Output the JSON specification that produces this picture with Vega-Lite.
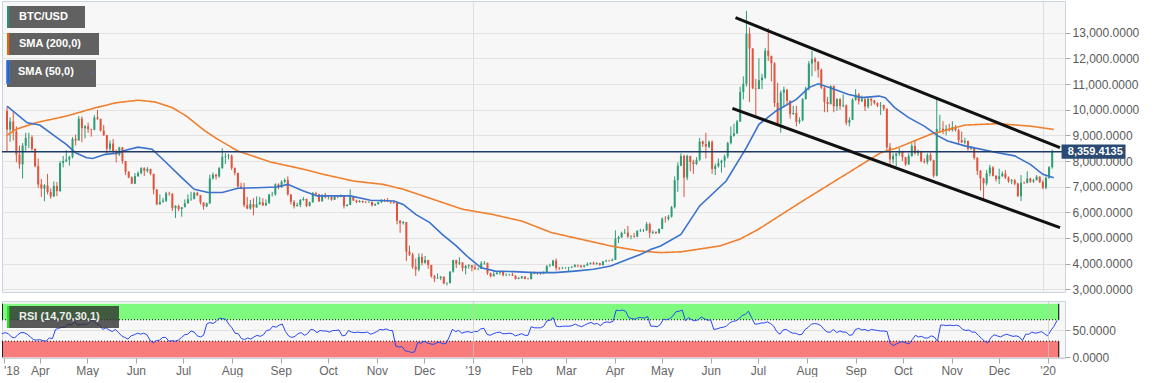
{
"$schema": "https://vega.github.io/schema/vega-lite/v6.json",
"padding": 0,
"background": "#ffffff",
"spacing": 9,
"bounds": "flush",
"config": {
 "font": "Liberation Sans",
 "view": {"fill": "#f7f7f7", "stroke": "#cbd3e3"},
 "axis": {"title": null, "domain": false, "labelFontSize": 12, "labelColor": "#5a5a5a", "tickColor": "#a6a6a6", "tickSize": 5, "labelOverlap": false},
 "legend": {"padding": 0, "fillColor": "#616161", "symbolSize": 484, "symbolStrokeWidth": 0, "labelColor": "#ffffff", "labelFontSize": 11, "labelFontWeight": "bold", "labelOffset": -10, "labelLimit": 300}
},
"datasets": {
 "px": [
{"d":"2018-03-08","o":9950,"h":10100,"l":8350,"c":9230,"r":44},
{"d":"2018-03-10","o":9230,"h":9700,"l":8750,"c":9540,"r":46},
{"d":"2018-03-12","o":9540,"h":9900,"l":8800,"c":9150,"r":44},
{"d":"2018-03-14","o":9150,"h":9350,"l":7950,"c":8250,"r":38},
{"d":"2018-03-16","o":8250,"h":8600,"l":7700,"c":7870,"r":36},
{"d":"2018-03-18","o":7870,"h":8700,"l":7320,"c":8600,"r":42},
{"d":"2018-03-20","o":8600,"h":9100,"l":8350,"c":8900,"r":46},
{"d":"2018-03-22","o":8900,"h":9100,"l":8500,"c":8920,"r":46},
{"d":"2018-03-24","o":8920,"h":9000,"l":8400,"c":8470,"r":43},
{"d":"2018-03-26","o":8470,"h":8500,"l":7750,"c":7800,"r":38},
{"d":"2018-03-28","o":7800,"h":8100,"l":6950,"c":7090,"r":33},
{"d":"2018-03-30","o":7090,"h":7300,"l":6600,"c":6930,"r":32},
{"d":"2018-04-01","o":6930,"h":7100,"l":6430,"c":7050,"r":33},
{"d":"2018-04-03","o":7050,"h":7500,"l":6700,"c":6790,"r":31},
{"d":"2018-04-05","o":6790,"h":6930,"l":6530,"c":6620,"r":30},
{"d":"2018-04-07","o":6620,"h":7200,"l":6600,"c":7030,"r":36},
{"d":"2018-04-09","o":7030,"h":7180,"l":6630,"c":6830,"r":35},
{"d":"2018-04-11","o":6830,"h":8000,"l":6800,"c":7920,"r":52},
{"d":"2018-04-13","o":7920,"h":8200,"l":7750,"c":8000,"r":54},
{"d":"2018-04-15","o":8000,"h":8420,"l":7950,"c":8060,"r":56},
{"d":"2018-04-17","o":8060,"h":8200,"l":7820,"c":8160,"r":56},
{"d":"2018-04-19","o":8160,"h":8930,"l":8100,"c":8860,"r":62},
{"d":"2018-04-21","o":8860,"h":9030,"l":8600,"c":8800,"r":60},
{"d":"2018-04-23","o":8800,"h":9750,"l":8800,"c":9650,"r":67},
{"d":"2018-04-25","o":9650,"h":9740,"l":8730,"c":9280,"r":60},
{"d":"2018-04-27","o":9280,"h":9400,"l":8880,"c":9350,"r":61},
{"d":"2018-04-29","o":9350,"h":9500,"l":9100,"c":9240,"r":62},
{"d":"2018-05-01","o":9240,"h":9260,"l":8950,"c":9220,"r":61},
{"d":"2018-05-03","o":9220,"h":9790,"l":9200,"c":9700,"r":67},
{"d":"2018-05-05","o":9700,"h":9990,"l":9600,"c":9640,"r":69},
{"d":"2018-05-07","o":9640,"h":9650,"l":9150,"c":9190,"r":63},
{"d":"2018-05-09","o":9190,"h":9400,"l":8970,"c":9010,"r":60},
{"d":"2018-05-11","o":9010,"h":9010,"l":8300,"c":8480,"r":52},
{"d":"2018-05-13","o":8480,"h":8800,"l":8380,"c":8680,"r":55},
{"d":"2018-05-15","o":8680,"h":8860,"l":8300,"c":8350,"r":51},
{"d":"2018-05-17","o":8350,"h":8450,"l":7950,"c":8250,"r":48},
{"d":"2018-05-19","o":8250,"h":8550,"l":8200,"c":8530,"r":52},
{"d":"2018-05-21","o":8530,"h":8550,"l":7900,"c":8000,"r":46},
{"d":"2018-05-23","o":8000,"h":8000,"l":7450,"c":7580,"r":40},
{"d":"2018-05-25","o":7580,"h":7600,"l":7330,"c":7360,"r":37},
{"d":"2018-05-27","o":7360,"h":7400,"l":7100,"c":7120,"r":34},
{"d":"2018-05-29","o":7120,"h":7530,"l":7100,"c":7410,"r":40},
{"d":"2018-05-31","o":7410,"h":7600,"l":7380,"c":7530,"r":42},
{"d":"2018-06-02","o":7530,"h":7760,"l":7480,"c":7720,"r":45},
{"d":"2018-06-04","o":7720,"h":7760,"l":7420,"c":7620,"r":43},
{"d":"2018-06-06","o":7620,"h":7760,"l":7550,"c":7690,"r":45},
{"d":"2018-06-08","o":7690,"h":7700,"l":7450,"c":7500,"r":42},
{"d":"2018-06-10","o":7500,"h":7500,"l":6700,"c":6890,"r":32},
{"d":"2018-06-12","o":6890,"h":6900,"l":6280,"c":6310,"r":27},
{"d":"2018-06-14","o":6310,"h":6700,"l":6300,"c":6400,"r":31},
{"d":"2018-06-16","o":6400,"h":6560,"l":6380,"c":6450,"r":32},
{"d":"2018-06-18","o":6450,"h":6800,"l":6400,"c":6740,"r":37},
{"d":"2018-06-20","o":6740,"h":6800,"l":6650,"c":6720,"r":37},
{"d":"2018-06-22","o":6720,"h":6750,"l":6050,"c":6160,"r":30},
{"d":"2018-06-24","o":6160,"h":6280,"l":5780,"c":6250,"r":31},
{"d":"2018-06-26","o":6250,"h":6300,"l":6050,"c":6130,"r":30},
{"d":"2018-06-28","o":6130,"h":6200,"l":5830,"c":6200,"r":32},
{"d":"2018-06-30","o":6200,"h":6500,"l":6200,"c":6350,"r":37},
{"d":"2018-07-02","o":6350,"h":6700,"l":6350,"c":6510,"r":42},
{"d":"2018-07-04","o":6510,"h":6800,"l":6450,"c":6530,"r":43},
{"d":"2018-07-06","o":6530,"h":6800,"l":6500,"c":6760,"r":49},
{"d":"2018-07-08","o":6760,"h":6800,"l":6640,"c":6660,"r":47},
{"d":"2018-07-10","o":6660,"h":6680,"l":6300,"c":6390,"r":40},
{"d":"2018-07-12","o":6390,"h":6390,"l":6100,"c":6230,"r":38},
{"d":"2018-07-14","o":6230,"h":6380,"l":6200,"c":6350,"r":41},
{"d":"2018-07-16","o":6350,"h":7470,"l":6330,"c":7320,"r":62},
{"d":"2018-07-18","o":7320,"h":7550,"l":7280,"c":7470,"r":65},
{"d":"2018-07-20","o":7470,"h":7500,"l":7280,"c":7400,"r":63},
{"d":"2018-07-22","o":7400,"h":7770,"l":7350,"c":7720,"r":67},
{"d":"2018-07-24","o":7720,"h":8500,"l":7700,"c":8170,"r":73},
{"d":"2018-07-26","o":8170,"h":8300,"l":7880,"c":8190,"r":72},
{"d":"2018-07-28","o":8190,"h":8280,"l":8060,"c":8210,"r":71},
{"d":"2018-07-30","o":8210,"h":8250,"l":7650,"c":7730,"r":62},
{"d":"2018-08-01","o":7730,"h":7750,"l":7450,"c":7540,"r":55},
{"d":"2018-08-03","o":7540,"h":7540,"l":6950,"c":7010,"r":45},
{"d":"2018-08-05","o":7010,"h":7150,"l":6900,"c":6940,"r":44},
{"d":"2018-08-07","o":6940,"h":7150,"l":6200,"c":6280,"r":35},
{"d":"2018-08-09","o":6280,"h":6600,"l":6120,"c":6150,"r":33},
{"d":"2018-08-11","o":6150,"h":6480,"l":6100,"c":6320,"r":36},
{"d":"2018-08-13","o":6320,"h":6550,"l":5880,"c":6190,"r":34},
{"d":"2018-08-15","o":6190,"h":6620,"l":6180,"c":6310,"r":38},
{"d":"2018-08-17","o":6310,"h":6600,"l":6300,"c":6390,"r":41},
{"d":"2018-08-19","o":6390,"h":6550,"l":6250,"c":6270,"r":39},
{"d":"2018-08-21","o":6270,"h":6500,"l":6250,"c":6360,"r":42},
{"d":"2018-08-23","o":6360,"h":6720,"l":6330,"c":6690,"r":50},
{"d":"2018-08-25","o":6690,"h":6800,"l":6620,"c":6700,"r":51},
{"d":"2018-08-27","o":6700,"h":7130,"l":6650,"c":7090,"r":58},
{"d":"2018-08-29","o":7090,"h":7130,"l":6900,"c":6980,"r":56},
{"d":"2018-08-31","o":6980,"h":7250,"l":6950,"c":7190,"r":60},
{"d":"2018-09-02","o":7190,"h":7320,"l":7130,"c":7260,"r":62},
{"d":"2018-09-04","o":7260,"h":7400,"l":6650,"c":6700,"r":48},
{"d":"2018-09-06","o":6700,"h":6700,"l":6300,"c":6410,"r":40},
{"d":"2018-09-08","o":6410,"h":6480,"l":6150,"c":6240,"r":37},
{"d":"2018-09-10","o":6240,"h":6380,"l":6230,"c":6290,"r":39},
{"d":"2018-09-12","o":6290,"h":6520,"l":6200,"c":6480,"r":44},
{"d":"2018-09-14","o":6480,"h":6600,"l":6450,"c":6520,"r":46},
{"d":"2018-09-16","o":6520,"h":6540,"l":6200,"c":6250,"r":41},
{"d":"2018-09-18","o":6250,"h":6420,"l":6230,"c":6390,"r":44},
{"d":"2018-09-20","o":6390,"h":6790,"l":6380,"c":6750,"r":52},
{"d":"2018-09-22","o":6750,"h":6800,"l":6620,"c":6700,"r":51},
{"d":"2018-09-24","o":6700,"h":6720,"l":6400,"c":6430,"r":46},
{"d":"2018-09-26","o":6430,"h":6700,"l":6420,"c":6680,"r":50},
{"d":"2018-09-28","o":6680,"h":6760,"l":6540,"c":6590,"r":49},
{"d":"2018-09-30","o":6590,"h":6650,"l":6500,"c":6600,"r":49},
{"d":"2018-10-02","o":6600,"h":6620,"l":6450,"c":6490,"r":47},
{"d":"2018-10-04","o":6490,"h":6670,"l":6480,"c":6620,"r":50},
{"d":"2018-10-06","o":6620,"h":6640,"l":6550,"c":6600,"r":50},
{"d":"2018-10-08","o":6600,"h":6700,"l":6590,"c":6640,"r":51},
{"d":"2018-10-10","o":6640,"h":6650,"l":6150,"c":6250,"r":40},
{"d":"2018-10-12","o":6250,"h":6320,"l":6230,"c":6290,"r":41},
{"d":"2018-10-14","o":6290,"h":6900,"l":6280,"c":6600,"r":50},
{"d":"2018-10-16","o":6600,"h":6620,"l":6440,"c":6460,"r":47},
{"d":"2018-10-18","o":6460,"h":6490,"l":6360,"c":6400,"r":46},
{"d":"2018-10-20","o":6400,"h":6480,"l":6380,"c":6440,"r":47},
{"d":"2018-10-22","o":6440,"h":6460,"l":6360,"c":6400,"r":46},
{"d":"2018-10-24","o":6400,"h":6450,"l":6360,"c":6390,"r":46},
{"d":"2018-10-26","o":6390,"h":6430,"l":6370,"c":6410,"r":47},
{"d":"2018-10-28","o":6410,"h":6420,"l":6230,"c":6270,"r":43},
{"d":"2018-10-30","o":6270,"h":6350,"l":6250,"c":6320,"r":45},
{"d":"2018-11-01","o":6320,"h":6410,"l":6300,"c":6400,"r":48},
{"d":"2018-11-03","o":6400,"h":6510,"l":6360,"c":6490,"r":52},
{"d":"2018-11-05","o":6490,"h":6520,"l":6400,"c":6460,"r":51},
{"d":"2018-11-07","o":6460,"h":6560,"l":6400,"c":6420,"r":53},
{"d":"2018-11-09","o":6420,"h":6440,"l":6330,"c":6390,"r":50},
{"d":"2018-11-11","o":6390,"h":6420,"l":6330,"c":6370,"r":50},
{"d":"2018-11-13","o":6370,"h":6380,"l":5530,"c":5670,"r":21},
{"d":"2018-11-15","o":5670,"h":5700,"l":5200,"c":5580,"r":19},
{"d":"2018-11-17","o":5580,"h":5660,"l":5520,"c":5620,"r":20},
{"d":"2018-11-19","o":5620,"h":5620,"l":4100,"c":4470,"r":12},
{"d":"2018-11-21","o":4470,"h":4700,"l":4300,"c":4360,"r":11},
{"d":"2018-11-23","o":4360,"h":4420,"l":3800,"c":3880,"r":9},
{"d":"2018-11-25","o":3880,"h":4200,"l":3520,"c":3770,"r":10},
{"d":"2018-11-27","o":3770,"h":4400,"l":3700,"c":4260,"r":28},
{"d":"2018-11-29","o":4260,"h":4400,"l":3930,"c":4030,"r":26},
{"d":"2018-12-01","o":4030,"h":4300,"l":4000,"c":4140,"r":30},
{"d":"2018-12-03","o":4140,"h":4150,"l":3800,"c":3950,"r":27},
{"d":"2018-12-05","o":3950,"h":3950,"l":3450,"c":3510,"r":25},
{"d":"2018-12-07","o":3510,"h":3560,"l":3280,"c":3420,"r":24},
{"d":"2018-12-09","o":3420,"h":3620,"l":3400,"c":3440,"r":27},
{"d":"2018-12-11","o":3440,"h":3520,"l":3360,"c":3490,"r":28},
{"d":"2018-12-13","o":3490,"h":3500,"l":3200,"c":3230,"r":25},
{"d":"2018-12-15","o":3230,"h":3280,"l":3150,"c":3240,"r":26},
{"d":"2018-12-17","o":3240,"h":3700,"l":3230,"c":3690,"r":38},
{"d":"2018-12-19","o":3690,"h":4150,"l":3650,"c":4140,"r":52},
{"d":"2018-12-21","o":4140,"h":4150,"l":3830,"c":4000,"r":48},
{"d":"2018-12-23","o":4000,"h":4250,"l":3950,"c":4050,"r":50},
{"d":"2018-12-25","o":4050,"h":4050,"l":3700,"c":3820,"r":45},
{"d":"2018-12-27","o":3820,"h":3950,"l":3580,"c":3910,"r":47},
{"d":"2018-12-29","o":3910,"h":3980,"l":3800,"c":3940,"r":48},
{"d":"2018-12-31","o":3940,"h":3950,"l":3700,"c":3850,"r":46},
{"d":"2019-01-02","o":3850,"h":3980,"l":3750,"c":3790,"r":48},
{"d":"2019-01-04","o":3790,"h":3850,"l":3740,"c":3800,"r":48},
{"d":"2019-01-06","o":3800,"h":4100,"l":3790,"c":4010,"r":53},
{"d":"2019-01-08","o":4010,"h":4100,"l":3960,"c":4030,"r":54},
{"d":"2019-01-10","o":4030,"h":4040,"l":3560,"c":3630,"r":43},
{"d":"2019-01-12","o":3630,"h":3650,"l":3470,"c":3510,"r":41},
{"d":"2019-01-14","o":3510,"h":3700,"l":3500,"c":3590,"r":44},
{"d":"2019-01-16","o":3590,"h":3720,"l":3580,"c":3650,"r":46},
{"d":"2019-01-18","o":3650,"h":3720,"l":3570,"c":3700,"r":47},
{"d":"2019-01-20","o":3700,"h":3720,"l":3500,"c":3550,"r":44},
{"d":"2019-01-22","o":3550,"h":3620,"l":3520,"c":3560,"r":44},
{"d":"2019-01-24","o":3560,"h":3600,"l":3530,"c":3570,"r":45},
{"d":"2019-01-26","o":3570,"h":3650,"l":3520,"c":3530,"r":44},
{"d":"2019-01-28","o":3530,"h":3540,"l":3380,"c":3400,"r":40},
{"d":"2019-01-30","o":3400,"h":3480,"l":3390,"c":3430,"r":42},
{"d":"2019-02-01","o":3430,"h":3520,"l":3420,"c":3500,"r":44},
{"d":"2019-02-03","o":3500,"h":3500,"l":3390,"c":3410,"r":41},
{"d":"2019-02-05","o":3410,"h":3450,"l":3380,"c":3400,"r":41},
{"d":"2019-02-07","o":3400,"h":3680,"l":3380,"c":3650,"r":57},
{"d":"2019-02-09","o":3650,"h":3700,"l":3590,"c":3600,"r":55},
{"d":"2019-02-11","o":3600,"h":3640,"l":3570,"c":3610,"r":55},
{"d":"2019-02-13","o":3610,"h":3640,"l":3560,"c":3600,"r":55},
{"d":"2019-02-15","o":3600,"h":3700,"l":3590,"c":3670,"r":58},
{"d":"2019-02-17","o":3670,"h":3950,"l":3650,"c":3900,"r":68},
{"d":"2019-02-19","o":3900,"h":4000,"l":3880,"c":3920,"r":69},
{"d":"2019-02-21","o":3920,"h":4150,"l":3900,"c":4120,"r":74},
{"d":"2019-02-23","o":4120,"h":4200,"l":3730,"c":3830,"r":58},
{"d":"2019-02-25","o":3830,"h":3870,"l":3750,"c":3820,"r":57},
{"d":"2019-02-27","o":3820,"h":3880,"l":3790,"c":3830,"r":58},
{"d":"2019-03-01","o":3830,"h":3860,"l":3800,"c":3840,"r":58},
{"d":"2019-03-03","o":3840,"h":3870,"l":3700,"c":3860,"r":58},
{"d":"2019-03-05","o":3860,"h":3900,"l":3820,"c":3880,"r":59},
{"d":"2019-03-07","o":3880,"h":3980,"l":3850,"c":3950,"r":62},
{"d":"2019-03-09","o":3950,"h":3960,"l":3860,"c":3930,"r":59},
{"d":"2019-03-11","o":3930,"h":3940,"l":3830,"c":3880,"r":57},
{"d":"2019-03-13","o":3880,"h":3950,"l":3850,"c":3930,"r":60},
{"d":"2019-03-15","o":3930,"h":4050,"l":3920,"c":3990,"r":63},
{"d":"2019-03-17","o":3990,"h":4050,"l":3960,"c":4030,"r":65},
{"d":"2019-03-19","o":4030,"h":4080,"l":3950,"c":3990,"r":62},
{"d":"2019-03-21","o":3990,"h":4060,"l":3960,"c":4020,"r":63},
{"d":"2019-03-23","o":4020,"h":4030,"l":3920,"c":3950,"r":59},
{"d":"2019-03-25","o":3950,"h":4100,"l":3920,"c":4090,"r":64},
{"d":"2019-03-27","o":4090,"h":4150,"l":4060,"c":4120,"r":66},
{"d":"2019-03-29","o":4120,"h":4150,"l":4080,"c":4110,"r":65},
{"d":"2019-03-31","o":4110,"h":4200,"l":4100,"c":4150,"r":67},
{"d":"2019-04-02","o":4150,"h":5300,"l":4150,"c":4970,"r":88},
{"d":"2019-04-04","o":4970,"h":5080,"l":4800,"c":5030,"r":87},
{"d":"2019-04-06","o":5030,"h":5250,"l":5000,"c":5200,"r":88},
{"d":"2019-04-08","o":5200,"h":5350,"l":5150,"c":5210,"r":86},
{"d":"2019-04-10","o":5210,"h":5470,"l":5000,"c":5060,"r":74},
{"d":"2019-04-12","o":5060,"h":5110,"l":4950,"c":5070,"r":72},
{"d":"2019-04-14","o":5070,"h":5200,"l":5010,"c":5050,"r":71},
{"d":"2019-04-16","o":5050,"h":5300,"l":5030,"c":5280,"r":74},
{"d":"2019-04-18","o":5280,"h":5360,"l":5230,"c":5290,"r":74},
{"d":"2019-04-20","o":5290,"h":5350,"l":5230,"c":5300,"r":73},
{"d":"2019-04-22","o":5300,"h":5620,"l":5270,"c":5540,"r":76},
{"d":"2019-04-24","o":5540,"h":5600,"l":5000,"c":5200,"r":58},
{"d":"2019-04-26","o":5200,"h":5300,"l":5150,"c":5230,"r":58},
{"d":"2019-04-28","o":5230,"h":5260,"l":5150,"c":5190,"r":57},
{"d":"2019-04-30","o":5190,"h":5380,"l":5170,"c":5350,"r":61},
{"d":"2019-05-02","o":5350,"h":5800,"l":5350,"c":5750,"r":71},
{"d":"2019-05-04","o":5750,"h":5850,"l":5600,"c":5740,"r":70},
{"d":"2019-05-06","o":5740,"h":5900,"l":5680,"c":5830,"r":72},
{"d":"2019-05-08","o":5830,"h":6250,"l":5800,"c":6200,"r":77},
{"d":"2019-05-10","o":6200,"h":7400,"l":6150,"c":7250,"r":85},
{"d":"2019-05-12","o":7250,"h":7950,"l":6800,"c":7820,"r":86},
{"d":"2019-05-14","o":7820,"h":8300,"l":7800,"c":8200,"r":88},
{"d":"2019-05-16","o":8200,"h":8250,"l":6600,"c":7350,"r":68},
{"d":"2019-05-18","o":7350,"h":8250,"l":7250,"c":8200,"r":74},
{"d":"2019-05-20","o":8200,"h":8200,"l":7600,"c":7960,"r":70},
{"d":"2019-05-22","o":7960,"h":8050,"l":7500,"c":7880,"r":68},
{"d":"2019-05-24","o":7880,"h":8150,"l":7850,"c":8050,"r":70},
{"d":"2019-05-26","o":8050,"h":8900,"l":8000,"c":8760,"r":75},
{"d":"2019-05-28","o":8760,"h":8800,"l":8550,"c":8660,"r":72},
{"d":"2019-05-30","o":8660,"h":9100,"l":8100,"c":8560,"r":69},
{"d":"2019-06-01","o":8560,"h":8800,"l":8500,"c":8750,"r":70},
{"d":"2019-06-03","o":8750,"h":8800,"l":7500,"c":7690,"r":52},
{"d":"2019-06-05","o":7690,"h":7900,"l":7450,"c":7800,"r":53},
{"d":"2019-06-07","o":7800,"h":8100,"l":7750,"c":7930,"r":55},
{"d":"2019-06-09","o":7930,"h":8050,"l":7550,"c":8010,"r":56},
{"d":"2019-06-11","o":8010,"h":8250,"l":7750,"c":8180,"r":58},
{"d":"2019-06-13","o":8180,"h":8750,"l":8100,"c":8700,"r":64},
{"d":"2019-06-15","o":8700,"h":9350,"l":8650,"c":8980,"r":67},
{"d":"2019-06-17","o":8980,"h":9450,"l":8950,"c":9080,"r":68},
{"d":"2019-06-19","o":9080,"h":9600,"l":9050,"c":9540,"r":72},
{"d":"2019-06-21","o":9540,"h":10900,"l":9520,"c":10690,"r":78},
{"d":"2019-06-23","o":10690,"h":11300,"l":10400,"c":11010,"r":80},
{"d":"2019-06-25","o":11010,"h":13850,"l":10900,"c":12960,"r":86},
{"d":"2019-06-27","o":12960,"h":13200,"l":10300,"c":12380,"r":74},
{"d":"2019-06-29","o":12380,"h":12400,"l":10800,"c":10830,"r":62},
{"d":"2019-07-01","o":10830,"h":11200,"l":9700,"c":10810,"r":62},
{"d":"2019-07-03","o":10810,"h":12000,"l":10800,"c":11150,"r":64},
{"d":"2019-07-05","o":11150,"h":11400,"l":10800,"c":11250,"r":64},
{"d":"2019-07-07","o":11250,"h":12400,"l":11200,"c":12300,"r":66},
{"d":"2019-07-09","o":12300,"h":13180,"l":11900,"c":12100,"r":63},
{"d":"2019-07-11","o":12100,"h":12100,"l":11100,"c":11810,"r":58},
{"d":"2019-07-13","o":11810,"h":11850,"l":10100,"c":10260,"r":48},
{"d":"2019-07-15","o":10260,"h":11050,"l":9400,"c":9460,"r":43},
{"d":"2019-07-17","o":9460,"h":10750,"l":9100,"c":10660,"r":51},
{"d":"2019-07-19","o":10660,"h":10900,"l":10100,"c":10780,"r":52},
{"d":"2019-07-21","o":10780,"h":10800,"l":10200,"c":10350,"r":48},
{"d":"2019-07-23","o":10350,"h":10350,"l":9650,"c":9830,"r":45},
{"d":"2019-07-25","o":9830,"h":10150,"l":9800,"c":9870,"r":45},
{"d":"2019-07-27","o":9870,"h":10150,"l":9350,"c":9530,"r":42},
{"d":"2019-07-29","o":9530,"h":9700,"l":9450,"c":9590,"r":43},
{"d":"2019-07-31","o":9590,"h":10450,"l":9550,"c":10410,"r":52},
{"d":"2019-08-02","o":10410,"h":10900,"l":10400,"c":10820,"r":56},
{"d":"2019-08-04","o":10820,"h":11900,"l":10750,"c":11800,"r":62},
{"d":"2019-08-06","o":11800,"h":12300,"l":11300,"c":11970,"r":63},
{"d":"2019-08-08","o":11970,"h":12050,"l":11500,"c":11860,"r":62},
{"d":"2019-08-10","o":11860,"h":11900,"l":11250,"c":11560,"r":59},
{"d":"2019-08-12","o":11560,"h":11600,"l":10800,"c":10860,"r":52},
{"d":"2019-08-14","o":10860,"h":10900,"l":9900,"c":10300,"r":47},
{"d":"2019-08-16","o":10300,"h":10500,"l":9900,"c":10220,"r":47},
{"d":"2019-08-18","o":10220,"h":10950,"l":10200,"c":10920,"r":52},
{"d":"2019-08-20","o":10920,"h":10950,"l":9900,"c":10130,"r":46},
{"d":"2019-08-22","o":10130,"h":10450,"l":9950,"c":10410,"r":49},
{"d":"2019-08-24","o":10410,"h":10450,"l":10000,"c":10140,"r":47},
{"d":"2019-08-26","o":10140,"h":10600,"l":10100,"c":10170,"r":47},
{"d":"2019-08-28","o":10170,"h":10200,"l":9400,"c":9490,"r":41},
{"d":"2019-08-30","o":9490,"h":9700,"l":9350,"c":9600,"r":42},
{"d":"2019-09-01","o":9600,"h":10450,"l":9600,"c":10390,"r":52},
{"d":"2019-09-03","o":10390,"h":10800,"l":10350,"c":10590,"r":54},
{"d":"2019-09-05","o":10590,"h":10650,"l":10200,"c":10330,"r":51},
{"d":"2019-09-07","o":10330,"h":10550,"l":10300,"c":10410,"r":52},
{"d":"2019-09-09","o":10410,"h":10450,"l":9950,"c":10120,"r":49},
{"d":"2019-09-11","o":10120,"h":10450,"l":10050,"c":10430,"r":52},
{"d":"2019-09-13","o":10430,"h":10450,"l":10150,"c":10360,"r":51},
{"d":"2019-09-15","o":10360,"h":10380,"l":10200,"c":10260,"r":50},
{"d":"2019-09-17","o":10260,"h":10280,"l":10100,"c":10160,"r":49},
{"d":"2019-09-19","o":10160,"h":10300,"l":9800,"c":10180,"r":49},
{"d":"2019-09-21","o":10180,"h":10200,"l":9950,"c":10040,"r":48},
{"d":"2019-09-23","o":10040,"h":10050,"l":8400,"c":8530,"r":26},
{"d":"2019-09-25","o":8530,"h":8700,"l":7800,"c":8060,"r":22},
{"d":"2019-09-27","o":8060,"h":8300,"l":7900,"c":8200,"r":25},
{"d":"2019-09-29","o":8200,"h":8320,"l":7800,"c":8290,"r":28},
{"d":"2019-10-01","o":8290,"h":8500,"l":8200,"c":8370,"r":29},
{"d":"2019-10-03","o":8370,"h":8400,"l":8000,"c":8150,"r":27},
{"d":"2019-10-05","o":8150,"h":8150,"l":7800,"c":7870,"r":25},
{"d":"2019-10-07","o":7870,"h":8300,"l":7850,"c":8190,"r":33},
{"d":"2019-10-09","o":8190,"h":8700,"l":8170,"c":8590,"r":41},
{"d":"2019-10-11","o":8590,"h":8800,"l":8250,"c":8300,"r":38},
{"d":"2019-10-13","o":8300,"h":8450,"l":8200,"c":8360,"r":39},
{"d":"2019-10-15","o":8360,"h":8400,"l":7950,"c":8000,"r":36},
{"d":"2019-10-17","o":8000,"h":8100,"l":7900,"c":7960,"r":36},
{"d":"2019-10-19","o":7960,"h":8300,"l":7870,"c":8230,"r":40},
{"d":"2019-10-21","o":8230,"h":8330,"l":8000,"c":8030,"r":38},
{"d":"2019-10-23","o":8030,"h":8050,"l":7350,"c":7430,"r":30},
{"d":"2019-10-25","o":7430,"h":10500,"l":7400,"c":9250,"r":60},
{"d":"2019-10-27","o":9250,"h":9800,"l":9100,"c":9260,"r":60},
{"d":"2019-10-29","o":9260,"h":9550,"l":9050,"c":9190,"r":59},
{"d":"2019-10-31","o":9190,"h":9400,"l":9000,"c":9260,"r":60},
{"d":"2019-11-02","o":9260,"h":9450,"l":9150,"c":9200,"r":59},
{"d":"2019-11-04","o":9200,"h":9550,"l":9150,"c":9320,"r":60},
{"d":"2019-11-06","o":9320,"h":9400,"l":9150,"c":9200,"r":58},
{"d":"2019-11-08","o":9200,"h":9250,"l":8650,"c":8810,"r":52},
{"d":"2019-11-10","o":8810,"h":9150,"l":8700,"c":8730,"r":50},
{"d":"2019-11-12","o":8730,"h":8900,"l":8650,"c":8780,"r":51},
{"d":"2019-11-14","o":8780,"h":8800,"l":8400,"c":8470,"r":47},
{"d":"2019-11-16","o":8470,"h":8580,"l":8430,"c":8500,"r":47},
{"d":"2019-11-18","o":8500,"h":8500,"l":8050,"c":8120,"r":41},
{"d":"2019-11-20","o":8120,"h":8150,"l":7450,"c":7620,"r":35},
{"d":"2019-11-22","o":7620,"h":7650,"l":6850,"c":7320,"r":30},
{"d":"2019-11-24","o":7320,"h":7350,"l":6520,"c":7130,"r":27},
{"d":"2019-11-26","o":7130,"h":7650,"l":7050,"c":7520,"r":37},
{"d":"2019-11-28","o":7520,"h":7850,"l":7400,"c":7750,"r":42},
{"d":"2019-11-30","o":7750,"h":7800,"l":7400,"c":7420,"r":40},
{"d":"2019-12-02","o":7420,"h":7450,"l":7200,"c":7300,"r":38},
{"d":"2019-12-04","o":7300,"h":7700,"l":7100,"c":7400,"r":41},
{"d":"2019-12-06","o":7400,"h":7600,"l":7400,"c":7510,"r":43},
{"d":"2019-12-08","o":7510,"h":7650,"l":7300,"c":7350,"r":41},
{"d":"2019-12-10","o":7350,"h":7400,"l":7150,"c":7210,"r":39},
{"d":"2019-12-12","o":7210,"h":7300,"l":7100,"c":7250,"r":40},
{"d":"2019-12-14","o":7250,"h":7300,"l":7050,"c":7120,"r":38},
{"d":"2019-12-16","o":7120,"h":7150,"l":6600,"c":6630,"r":31},
{"d":"2019-12-18","o":6630,"h":7450,"l":6440,"c":7150,"r":43},
{"d":"2019-12-20","o":7150,"h":7200,"l":7100,"c":7140,"r":43},
{"d":"2019-12-22","o":7140,"h":7600,"l":7130,"c":7320,"r":47},
{"d":"2019-12-24","o":7320,"h":7350,"l":7150,"c":7200,"r":45},
{"d":"2019-12-26","o":7200,"h":7300,"l":7150,"c":7250,"r":46},
{"d":"2019-12-28","o":7250,"h":7450,"l":7250,"c":7390,"r":48},
{"d":"2019-12-30","o":7390,"h":7400,"l":7150,"c":7170,"r":44},
{"d":"2020-01-01","o":7170,"h":7250,"l":6900,"c":6960,"r":40},
{"d":"2020-01-03","o":6960,"h":7400,"l":6900,"c":7350,"r":50},
{"d":"2020-01-05","o":7350,"h":7800,"l":7300,"c":7760,"r":58},
{"d":"2020-01-07","o":7760,"h":8450,"l":7700,"c":8359.41,"r":69}
 ],
 "s2": [
{"d":"2018-03-08","v":9000},{"d":"2018-03-14","v":9240},{"d":"2018-03-27","v":9500},{"d":"2018-04-15","v":9750},
{"d":"2018-05-04","v":10080},{"d":"2018-05-17","v":10270},{"d":"2018-05-31","v":10370},{"d":"2018-06-11","v":10300},
{"d":"2018-06-22","v":10080},{"d":"2018-07-01","v":9750},{"d":"2018-07-13","v":9170},{"d":"2018-07-21","v":8850},
{"d":"2018-08-03","v":8390},{"d":"2018-08-24","v":7960},{"d":"2018-09-14","v":7680},{"d":"2018-09-27","v":7480},
{"d":"2018-10-16","v":7220},{"d":"2018-11-04","v":7090},{"d":"2018-11-17","v":6900},{"d":"2018-12-06","v":6510},
{"d":"2018-12-25","v":6120},{"d":"2019-01-13","v":5920},{"d":"2019-02-01","v":5660},{"d":"2019-02-20","v":5210},
{"d":"2019-03-11","v":4950},{"d":"2019-03-30","v":4690},{"d":"2019-04-18","v":4490},{"d":"2019-05-01","v":4430},
{"d":"2019-05-14","v":4460},{"d":"2019-05-26","v":4570},{"d":"2019-06-08","v":4690},{"d":"2019-06-21","v":4960},
{"d":"2019-07-03","v":5350},{"d":"2019-07-16","v":5860},{"d":"2019-07-31","v":6440},{"d":"2019-08-25","v":7380},
{"d":"2019-09-19","v":8320},{"d":"2019-09-30","v":8520},{"d":"2019-10-21","v":9040},{"d":"2019-11-12","v":9400},
{"d":"2019-12-03","v":9455},{"d":"2019-12-24","v":9360},{"d":"2020-01-08","v":9230}
 ],
 "s5": [
{"d":"2018-03-08","v":10140},{"d":"2018-03-21","v":9490},{"d":"2018-03-29","v":9400},{"d":"2018-04-09","v":8910},
{"d":"2018-04-15","v":8650},{"d":"2018-04-21","v":8320},{"d":"2018-04-28","v":8130},{"d":"2018-05-02","v":8100},
{"d":"2018-05-10","v":8260},{"d":"2018-05-17","v":8300},{"d":"2018-05-23","v":8420},{"d":"2018-05-31","v":8540},
{"d":"2018-06-09","v":8460},{"d":"2018-06-17","v":8000},{"d":"2018-06-28","v":7350},{"d":"2018-07-06","v":6900},
{"d":"2018-07-15","v":6770},{"d":"2018-07-24","v":6770},{"d":"2018-08-03","v":6940},{"d":"2018-08-15","v":6960},
{"d":"2018-08-28","v":6990},{"d":"2018-09-04","v":7090},{"d":"2018-09-14","v":6830},{"d":"2018-09-23","v":6640},
{"d":"2018-10-05","v":6640},{"d":"2018-10-14","v":6640},{"d":"2018-10-27","v":6470},{"d":"2018-11-11","v":6440},
{"d":"2018-11-17","v":6310},{"d":"2018-11-25","v":5920},{"d":"2018-12-04","v":5600},{"d":"2018-12-12","v":5140},
{"d":"2018-12-21","v":4690},{"d":"2018-12-29","v":4230},{"d":"2019-01-06","v":3840},{"d":"2019-01-15","v":3710},
{"d":"2019-01-27","v":3690},{"d":"2019-02-09","v":3650},{"d":"2019-02-22","v":3650},{"d":"2019-03-07","v":3710},
{"d":"2019-03-19","v":3780},{"d":"2019-03-30","v":3910},{"d":"2019-04-10","v":4170},{"d":"2019-04-18","v":4360},
{"d":"2019-04-25","v":4560},{"d":"2019-05-01","v":4690},{"d":"2019-05-14","v":5140},{"d":"2019-05-26","v":6250},
{"d":"2019-06-12","v":7220},{"d":"2019-06-25","v":8520},{"d":"2019-07-03","v":9430},{"d":"2019-07-14","v":9950},
{"d":"2019-07-27","v":10400},{"d":"2019-08-04","v":10860},{"d":"2019-08-10","v":11010},{"d":"2019-08-19","v":10830},
{"d":"2019-08-29","v":10600},{"d":"2019-09-07","v":10470},{"d":"2019-09-18","v":10530},{"d":"2019-09-22","v":10470},
{"d":"2019-09-28","v":10080},{"d":"2019-10-07","v":9690},{"d":"2019-10-17","v":9360},{"d":"2019-10-26","v":8970},
{"d":"2019-11-01","v":8780},{"d":"2019-11-12","v":8590},{"d":"2019-12-03","v":8320},{"d":"2019-12-14","v":8200},
{"d":"2019-12-24","v":7870},{"d":"2020-01-01","v":7480},{"d":"2020-01-08","v":7350}
 ],
 "tr": [
{"d":"2019-06-18","p":13585,"g":"a"},{"d":"2020-01-12","p":8518,"g":"a"},
{"d":"2019-06-16","p":10054,"g":"b"},{"d":"2020-01-12","p":5401,"g":"b"}
 ],
 "last": [{"d":"2020-01-08","c":8359.4135}],
 "zn": [
{"z":"g","a":70,"b":100,"m":70},
{"z":"r","a":0,"b":30,"m":30}
 ]
},
"resolve": {"scale": {"opacity": "independent"}, "legend": {"opacity": "independent"}},
"vconcat": [
 {
  "width": 1063,
  "height": 291,
  "layer": [
   {
    "data": {"name": "px"},
    "mark": {"type": "rule", "clip": true, "strokeWidth": 1},
    "encoding": {
     "x": {"field": "d", "type": "temporal",
       "scale": {"type": "utc", "domain": [{"year": 2018, "month": 3, "date": 8, "utc": true}, {"year": 2020, "month": 1, "date": 12, "utc": true}]},
       "axis": {"values": [{"year": 2019, "month": 1, "date": 1, "utc": true}, {"year": 2020, "month": 1, "date": 1, "utc": true}], "labels": false, "ticks": false, "grid": true, "gridColor": "#dedede"}},
     "y": {"field": "l", "type": "quantitative",
       "scale": {"domain": [2895, 14236], "nice": false, "zero": false},
       "axis": {"orient": "right", "values": [3000, 4000, 5000, 6000, 7000, 8000, 9000, 10000, 11000, 12000, 13000], "tickCount": 30, "format": ",.4f", "grid": true, "gridColor": "#e2e2e2", "labelPadding": 2, "labelOverlap": false}},
     "y2": {"field": "h"},
     "color": {"condition": {"test": "datum.c >= datum.o", "value": "#2e9c74"}, "value": "#e0533d"},
     "opacity": {"datum": "BTC/USD", "type": "nominal", "scale": {"range": [1, 1]},
       "legend": {"title": null, "orient": "none", "legendX": 5, "legendY": 5, "symbolFillColor": "#2f8f6e", "symbolType": "M-1,-1H-0.79V1H-1Z M6.08,0H6.09V0.01H6.08Z"}}
    }
   },
   {
    "data": {"name": "px"},
    "mark": {"type": "bar", "width": 2, "clip": true},
    "encoding": {
     "x": {"field": "d", "type": "temporal"},
     "y": {"field": "o", "type": "quantitative"},
     "y2": {"field": "c"},
     "color": {"condition": {"test": "datum.c >= datum.o", "value": "#2e9c74"}, "value": "#e0533d"}
    }
   },
   {
    "data": {"name": "s2"},
    "mark": {"type": "line", "clip": true, "color": "#f07f2e", "strokeWidth": 1.6},
    "encoding": {
     "x": {"field": "d", "type": "temporal"},
     "y": {"field": "v", "type": "quantitative"},
     "strokeDash": {"datum": "SMA (200,0)", "type": "nominal", "scale": {"range": [[1, 0]]},
       "legend": {"title": null, "orient": "none", "legendX": 5, "legendY": 32, "symbolFillColor": "#e8650c", "symbolType": "M-1,-1H-0.79V1H-1Z M7.27,0H7.28V0.01H7.27Z"}}
    }
   },
   {
    "data": {"name": "s5"},
    "mark": {"type": "line", "clip": true, "color": "#3a72cc"},
    "encoding": {
     "x": {"field": "d", "type": "temporal"},
     "y": {"field": "v", "type": "quantitative"},
     "strokeWidth": {"datum": "SMA (50,0)", "type": "nominal", "scale": {"range": [1.6, 1.6]},
       "legend": {"title": null, "orient": "none", "legendX": 5, "legendY": 59, "symbolFillColor": "#1450b4", "labelOffset": -12, "symbolOffset": -1, "symbolType": "M-1,-1H-0.79V1H-1Z M6.73,0H6.74V0.01H6.73Z"}}
    }
   },
   {
    "data": {"name": "last"},
    "mark": {"type": "rule", "color": "#1f3a66", "strokeWidth": 1.5},
    "encoding": {"y": {"field": "c", "type": "quantitative"}}
   },
   {
    "data": {"name": "tr"},
    "mark": {"type": "line", "clip": true, "color": "#111111", "strokeWidth": 3},
    "encoding": {
     "x": {"field": "d", "type": "temporal"},
     "y": {"field": "p", "type": "quantitative"},
     "detail": {"field": "g", "type": "nominal"}
    }
   },
   {
    "data": {"name": "last"},
    "mark": {"type": "rect", "color": "#2a4a73"},
    "encoding": {
     "x": {"datum": {"year": 2020, "month": 1, "date": 13, "utc": true}, "type": "temporal"},
     "x2": {"datum": {"year": 2020, "month": 2, "date": 23, "utc": true}},
     "y": {"datum": 8090, "type": "quantitative"},
     "y2": {"datum": 8640}
    }
   },
   {
    "data": {"name": "last"},
    "mark": {"type": "text", "align": "left", "baseline": "middle", "fontSize": 11, "fontWeight": "bold", "color": "#ffffff"},
    "encoding": {
     "x": {"datum": {"year": 2020, "month": 1, "date": 17, "utc": true}, "type": "temporal"},
     "y": {"field": "c", "type": "quantitative"},
     "text": {"field": "c", "type": "quantitative", "format": ",.4f"}
    }
   }
  ]
 },
 {
  "width": 1063,
  "height": 57,
  "layer": [
   {
    "data": {"name": "zn"},
    "mark": {"type": "rect"},
    "encoding": {
     "x": {"datum": {"year": 2018, "month": 3, "date": 8, "utc": true}, "type": "temporal",
       "scale": {"type": "utc", "domain": [{"year": 2018, "month": 3, "date": 8, "utc": true}, {"year": 2020, "month": 1, "date": 12, "utc": true}]},
       "axis": {"zindex": 1, "tickCount": 40, "values": [
         {"year": 2018, "month": 3, "date": 9, "utc": true},
         {"year": 2018, "month": 4, "date": 1, "utc": true}, {"year": 2018, "month": 5, "date": 1, "utc": true},
         {"year": 2018, "month": 6, "date": 1, "utc": true}, {"year": 2018, "month": 7, "date": 1, "utc": true},
         {"year": 2018, "month": 8, "date": 1, "utc": true}, {"year": 2018, "month": 9, "date": 1, "utc": true},
         {"year": 2018, "month": 10, "date": 1, "utc": true}, {"year": 2018, "month": 11, "date": 1, "utc": true},
         {"year": 2018, "month": 12, "date": 1, "utc": true}, {"year": 2019, "month": 1, "date": 1, "utc": true},
         {"year": 2019, "month": 2, "date": 1, "utc": true}, {"year": 2019, "month": 3, "date": 1, "utc": true},
         {"year": 2019, "month": 4, "date": 1, "utc": true}, {"year": 2019, "month": 5, "date": 1, "utc": true},
         {"year": 2019, "month": 6, "date": 1, "utc": true}, {"year": 2019, "month": 7, "date": 1, "utc": true},
         {"year": 2019, "month": 8, "date": 1, "utc": true}, {"year": 2019, "month": 9, "date": 1, "utc": true},
         {"year": 2019, "month": 10, "date": 1, "utc": true}, {"year": 2019, "month": 11, "date": 1, "utc": true},
         {"year": 2019, "month": 12, "date": 1, "utc": true}, {"year": 2020, "month": 1, "date": 1, "utc": true}],
         "labelExpr": "(utcmonth(datum.value)==0 || (utcyear(datum.value)==2018 && utcmonth(datum.value)==2)) ? \"'\" + utcFormat(datum.value, '%y') : utcFormat(datum.value, '%b')",
         "labelFlush": 5, "labelPadding": 2, "labelColor": "#666666",
         "grid": true, "gridOpacity": 0.7,
         "gridColor": {"condition": {"test": "utcmonth(datum.value)==0", "value": "#c8c8c8"}, "value": "transparent"}}},
     "x2": {"datum": {"year": 2020, "month": 1, "date": 8, "utc": true}},
     "y": {"field": "a", "type": "quantitative",
       "scale": {"domain": [-1.3, 105], "nice": false, "zero": false},
       "axis": {"orient": "right", "values": [0, 50], "tickCount": 10, "format": ".4f", "grid": true, "gridColor": "#e0e0e0", "labelPadding": 2}},
     "y2": {"field": "b"},
     "color": {"field": "z", "type": "nominal", "scale": {"domain": ["g", "r"], "range": ["#7efb7e", "#f97c7c"]}, "legend": null}
    }
   },
   {
    "data": {"name": "zn"},
    "mark": {"type": "rule", "color": "#111111", "strokeWidth": 1, "strokeDash": [1, 2]},
    "encoding": {
     "x": {"datum": {"year": 2018, "month": 3, "date": 8, "utc": true}, "type": "temporal"},
     "x2": {"datum": {"year": 2020, "month": 1, "date": 8, "utc": true}},
     "y": {"field": "m", "type": "quantitative"}
    }
   },
   {
    "data": {"name": "zn"},
    "mark": {"type": "rule", "color": "#222222", "strokeWidth": 1.2},
    "encoding": {
     "x": {"datum": {"year": 2020, "month": 1, "date": 8, "utc": true}, "type": "temporal"},
     "y": {"field": "a", "type": "quantitative"},
     "y2": {"field": "b"}
    }
   },
   {
    "data": {"name": "zn"},
    "mark": {"type": "rule", "color": "#222222", "strokeWidth": 2, "clip": true},
    "encoding": {
     "x": {"datum": {"year": 2018, "month": 3, "date": 8, "utc": true}, "type": "temporal"},
     "y": {"field": "a", "type": "quantitative"},
     "y2": {"field": "b"}
    }
   },
   {
    "data": {"name": "px"},
    "mark": {"type": "line", "clip": true, "color": "#2747f0", "strokeWidth": 1},
    "encoding": {
     "x": {"field": "d", "type": "temporal"},
     "y": {"field": "r", "type": "quantitative"},
     "opacity": {"datum": "RSI (14,70,30,1)", "type": "nominal", "scale": {"range": [1, 1]},
       "legend": {"title": null, "orient": "none", "legendX": 5, "legendY": 5, "fillColor": "rgba(45,45,45,0.78)", "symbolFillColor": "#22e622", "labelColor": "#eeeeee", "symbolType": "M-1,-1H-0.79V1H-1Z M9.09,0H9.1V0.01H9.09Z"}}
    }
   }
  ]
 }
]
}
